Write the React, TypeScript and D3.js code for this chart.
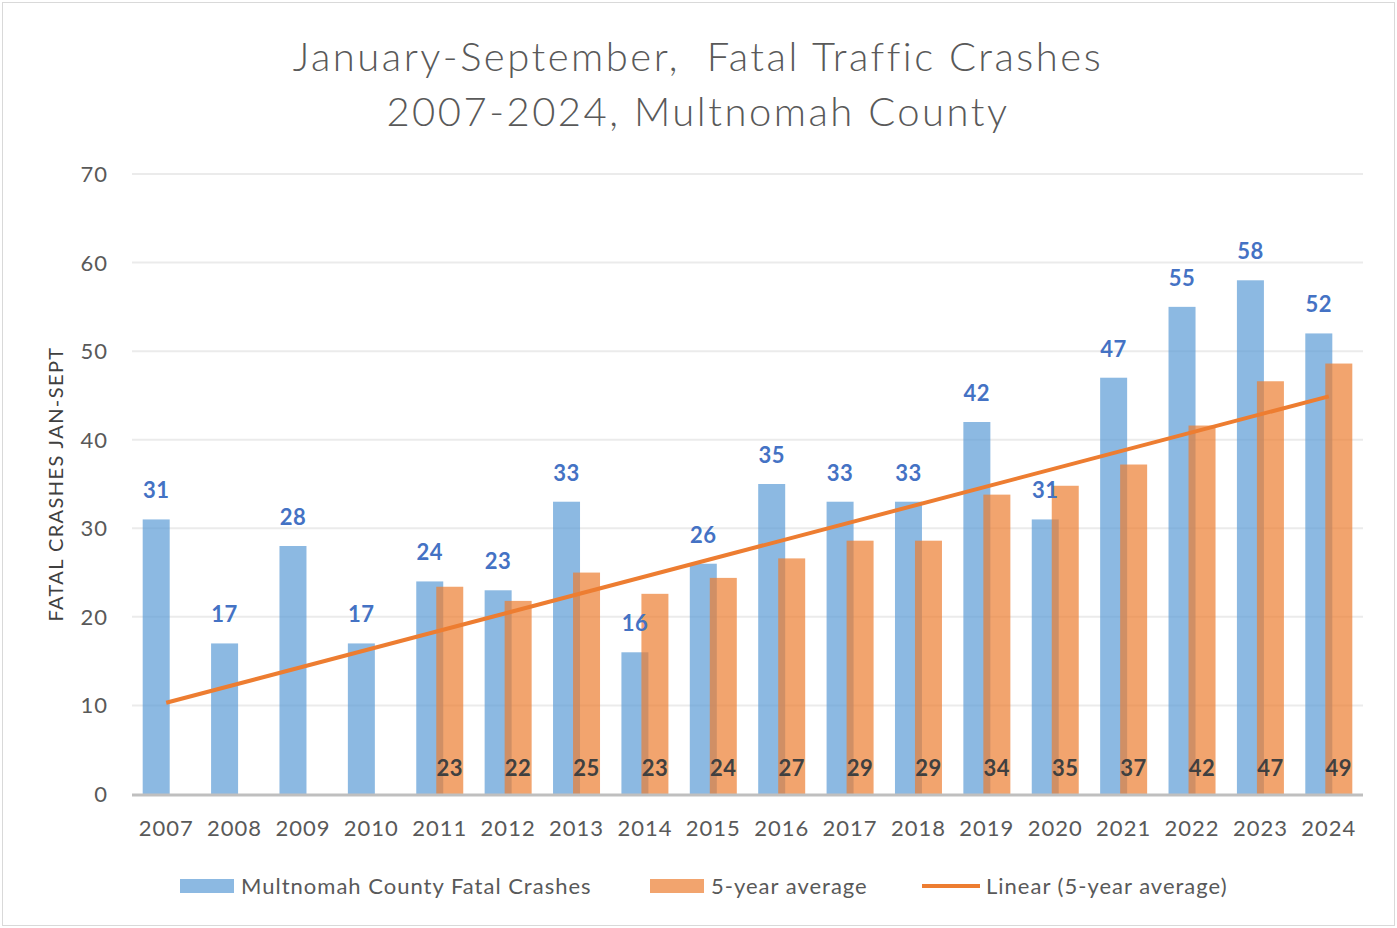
import React, { useRef, useEffect } from 'react';
import * as d3 from 'd3';

const years = ['2007', '2008', '2009', '2010', '2011', '2012', '2013', '2014', '2015',
  '2016', '2017', '2018', '2019', '2020', '2021', '2022', '2023', '2024'];
const crashes = [31, 17, 28, 17, 24, 23, 33, 16, 26, 35, 33, 33, 42, 31, 47, 55, 58, 52];
// 5-year average, blank for the first four years
const fiveYearAvg = [null, null, null, null, 23.4, 21.8, 25, 22.6, 24.4, 26.6, 28.6, 28.6,
  33.8, 34.8, 37.2, 41.6, 46.6, 48.6];
const trendEnds = [10.3, 44.9]; // linear trendline at 2007 and 2024
const yTicks = [0, 10, 20, 30, 40, 50, 60, 70];
const titleLines = ['January-September,  Fatal Traffic Crashes', '2007-2024, Multnomah County'];

const FONT = 'Lato, "Open Sans", sans-serif';

const Chart = () => {
  const svgRef = useRef<SVGSVGElement>(null);

  useEffect(() => {
    const width = 1397, height = 928;
    const margin = { top: 174, right: 34, bottom: 134, left: 132 };
    const svg = d3.select(svgRef.current)
      .attr('width', width)
      .attr('height', height);
    svg.selectAll('*').remove();

    // chart border
    svg.append('rect')
      .attr('x', 2.5).attr('y', 2.5)
      .attr('width', width - 5).attr('height', height - 5)
      .attr('fill', 'white').attr('stroke', '#d9d9d9');

    // title
    svg.append('g').selectAll('text')
      .data(titleLines)
      .join('text')
      .attr('x', 698)
      .attr('y', (d, i) => 71 + i * 55)
      .attr('text-anchor', 'middle')
      .attr('font-family', FONT)
      .attr('font-weight', 300)
      .attr('font-size', 40)
      .attr('letter-spacing', 2.5)
      .attr('fill', '#595959')
      .style('white-space', 'pre')
      .text(d => d);

    const x = d3.scaleBand().domain(years).range([margin.left, width - margin.right]);
    const y = d3.scaleLinear().domain([0, 70]).range([height - margin.bottom, margin.top]);
    const barW = 27;
    const blueX = (d: string) => x(d)! + x.bandwidth() / 2 - 23.5;
    const orangeX = (d: string) => x(d)! + x.bandwidth() / 2 - 3.5;

    // gridlines
    svg.append('g').selectAll('line')
      .data(yTicks.slice(1))
      .join('line')
      .attr('x1', margin.left).attr('x2', width - margin.right)
      .attr('y1', d => y(d)).attr('y2', d => y(d))
      .attr('stroke', '#ebebeb').attr('stroke-width', 2);

    // y tick labels
    svg.append('g').selectAll('text')
      .data(yTicks)
      .join('text')
      .attr('x', 108)
      .attr('y', d => y(d) + 8)
      .attr('text-anchor', 'end')
      .attr('font-family', FONT)
      .attr('font-size', 22)
      .attr('letter-spacing', 1)
      .attr('fill', '#595959')
      .text(d => d);

    // y axis title
    svg.append('text')
      .attr('transform', `translate(63,${484}) rotate(-90)`)
      .attr('text-anchor', 'middle')
      .attr('font-family', FONT)
      .attr('font-size', 20)
      .attr('letter-spacing', 1.4)
      .attr('fill', '#404040')
      .text('FATAL CRASHES JAN-SEPT');

    // blue bars
    svg.append('g').selectAll('rect')
      .data(years)
      .join('rect')
      .attr('x', d => blueX(d))
      .attr('y', (d, i) => y(crashes[i]))
      .attr('width', barW)
      .attr('height', (d, i) => y(0) - y(crashes[i]))
      .attr('fill', '#5b9bd5')
      .attr('fill-opacity', 0.7);

    // orange bars
    const avgYears = years.filter((d, i) => fiveYearAvg[i] !== null);
    svg.append('g').selectAll('rect')
      .data(avgYears)
      .join('rect')
      .attr('x', d => orangeX(d))
      .attr('y', d => y(fiveYearAvg[years.indexOf(d)]!))
      .attr('width', barW)
      .attr('height', d => y(0) - y(fiveYearAvg[years.indexOf(d)]!))
      .attr('fill', '#ed7d31')
      .attr('fill-opacity', 0.7);

    // zero axis line
    svg.append('line')
      .attr('x1', margin.left).attr('x2', width - margin.right)
      .attr('y1', y(0) + 1).attr('y2', y(0) + 1)
      .attr('stroke', '#bfbfbf').attr('stroke-width', 3);

    // x labels
    svg.append('g').selectAll('text')
      .data(years)
      .join('text')
      .attr('x', d => x(d)! + x.bandwidth() / 2)
      .attr('y', 836)
      .attr('text-anchor', 'middle')
      .attr('font-family', FONT)
      .attr('font-size', 22)
      .attr('letter-spacing', 1)
      .attr('fill', '#595959')
      .text(d => d);

    // trendline
    const line = d3.line<[string, number]>()
      .x(d => x(d[0])! + x.bandwidth() / 2)
      .y(d => y(d[1]));
    svg.append('path')
      .datum([[years[0], trendEnds[0]], [years[years.length - 1], trendEnds[1]]] as [string, number][])
      .attr('fill', 'none')
      .attr('stroke', '#ed7d31')
      .attr('stroke-width', 4)
      .attr('d', line);

    // blue data labels
    svg.append('g').selectAll('text')
      .data(years)
      .join('text')
      .attr('x', d => blueX(d) + barW / 2)
      .attr('y', (d, i) => y(crashes[i]) - 21)
      .attr('text-anchor', 'middle')
      .attr('font-family', FONT)
      .attr('font-weight', 'bold')
      .attr('font-size', 22)
      .attr('letter-spacing', 0.5)
      .attr('fill', '#4472c4')
      .text((d, i) => crashes[i]);

    // orange data labels, inside base
    svg.append('g').selectAll('text')
      .data(avgYears)
      .join('text')
      .attr('x', d => orangeX(d) + barW / 2)
      .attr('y', y(0) - 18)
      .attr('text-anchor', 'middle')
      .attr('font-family', FONT)
      .attr('font-weight', 'bold')
      .attr('font-size', 22)
      .attr('letter-spacing', 0.5)
      .attr('fill', '#404040')
      .text(d => Math.round(fiveYearAvg[years.indexOf(d)]!));

    // legend
    const legend = svg.append('g').attr('font-family', FONT).attr('font-size', 22)
      .attr('letter-spacing', 1).attr('fill', '#595959');
    legend.append('rect').attr('x', 180).attr('y', 879).attr('width', 54).attr('height', 14)
      .attr('fill', '#5b9bd5').attr('fill-opacity', 0.7);
    legend.append('text').attr('x', 241).attr('y', 894).text('Multnomah County Fatal Crashes');
    legend.append('rect').attr('x', 650).attr('y', 879).attr('width', 54).attr('height', 14)
      .attr('fill', '#ed7d31').attr('fill-opacity', 0.7);
    legend.append('text').attr('x', 711).attr('y', 894).text('5-year average');
    legend.append('line').attr('x1', 922).attr('x2', 980).attr('y1', 886).attr('y2', 886)
      .attr('stroke', '#ed7d31').attr('stroke-width', 4);
    legend.append('text').attr('x', 986).attr('y', 894).text('Linear (5-year average)');
  }, []);

  return (
    <svg ref={svgRef} style={{ position: 'absolute', left: 0, top: 0, display: 'block' }}></svg>
  );
};

export default function App() {
  return <Chart />;
}
